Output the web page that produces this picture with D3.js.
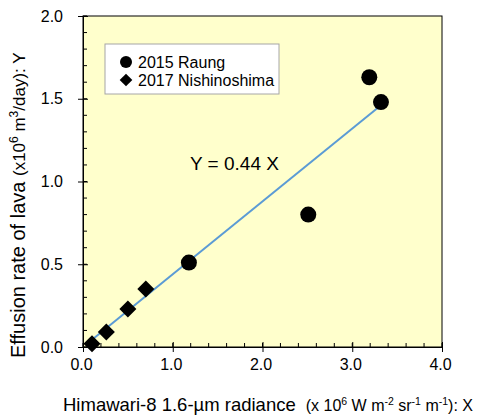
<!DOCTYPE html>
<html>
<head>
<meta charset="utf-8">
<title>Effusion rate vs radiance</title>
<script src="https://cdn.jsdelivr.net/npm/d3@7"></script>
<style>
  body { margin: 0; background: #fff; }
  text { font-family: "Liberation Sans", Arial, sans-serif; fill: #000; }
</style>
</head>
<body>
<div id="chart"></div>
<script>
  // data
  var raungX = [1.18, 2.51, 3.19, 3.32];
  var raungY = [0.51, 0.80, 1.63, 1.48];
  var nishiX = [0.10, 0.26, 0.50, 0.70];
  var nishiY = [0.02, 0.09, 0.23, 0.35];
  var slope = 0.44;
  var fitRange = [0.08, 3.32];
  var xTicks = [0, 1, 2, 3, 4];
  var yTicks = [0, 0.5, 1.0, 1.5, 2.0];

  var width = 481, height = 415;
  var margin = {top: 16, right: 39, bottom: 68, left: 83};

  var svg = d3.select("#chart").append("svg")
    .attr("width", width)
    .attr("height", height);

  var x = d3.scaleLinear().domain([0, 4]).range([margin.left, width - margin.right]);
  var y = d3.scaleLinear().domain([0, 2]).range([height - margin.bottom, margin.top]);

  // plot background
  svg.append("rect")
    .attr("x", x(0)).attr("y", y(2))
    .attr("width", x(4) - x(0)).attr("height", y(0) - y(2))
    .attr("fill", "#ffffcc")
    .attr("stroke", "#000")
    .attr("stroke-width", 1);

  // minor ticks (inside)
  var g = svg.append("g");
  g.selectAll(".xminor").data(d3.range(0, 4.01, 0.2))
    .enter().append("line")
    .attr("x1", function (d) { return x(d); })
    .attr("x2", function (d) { return x(d); })
    .attr("y1", y(0)).attr("y2", y(0) - 4)
    .attr("stroke", "#000");
  g.selectAll(".yminor").data(d3.range(0, 2.01, 0.1))
    .enter().append("line")
    .attr("y1", function (d) { return y(d); })
    .attr("y2", function (d) { return y(d); })
    .attr("x1", x(0)).attr("x2", x(0) + 4)
    .attr("stroke", "#000");

  // axes with major ticks crossing the line
  var xAxis = svg.append("g")
    .attr("transform", "translate(0," + y(0) + ")")
    .call(d3.axisBottom(x).tickValues(xTicks).tickFormat(d3.format(".1f")).tickSizeInner(5).tickSizeOuter(0).tickPadding(7));
  xAxis.selectAll(".tick line").attr("y1", -5);
  xAxis.selectAll(".tick text").attr("dx", "-2");
  var yAxis = svg.append("g")
    .attr("transform", "translate(" + x(0) + ",0)")
    .call(d3.axisLeft(y).tickValues(yTicks).tickFormat(d3.format(".1f")).tickSizeInner(5).tickSizeOuter(0).tickPadding(15));
  yAxis.selectAll(".tick line").attr("x1", 5);
  svg.selectAll(".domain").attr("stroke", "#000");
  svg.selectAll(".tick text")
    .style("font-family", "'Liberation Sans', Arial, sans-serif")
    .style("font-size", "16px")
    .attr("fill", "#000");

  // fit line
  svg.append("line")
    .attr("x1", x(fitRange[0])).attr("y1", y(slope * fitRange[0]))
    .attr("x2", x(fitRange[1])).attr("y2", y(slope * fitRange[1]))
    .attr("stroke", "#5b9bd5")
    .attr("stroke-width", 2);

  var circle = d3.symbol().type(d3.symbolCircle).size(Math.PI * 64);
  var diamond = d3.symbol().type(d3.symbolSquare).size(145);

  svg.append("g").selectAll("path").data(d3.zip(nishiX, nishiY))
    .enter().append("path")
    .attr("d", diamond)
    .attr("transform", function (d) { return "translate(" + x(d[0]) + "," + y(d[1]) + ") rotate(45)"; })
    .attr("fill", "#000");

  svg.append("g").selectAll("path").data(d3.zip(raungX, raungY))
    .enter().append("path")
    .attr("d", circle)
    .attr("transform", function (d) { return "translate(" + x(d[0]) + "," + y(d[1]) + ")"; })
    .attr("fill", "#000");

  // equation
  svg.append("text")
    .attr("x", 190).attr("y", 170)
    .style("font-size", "19px")
    .text("Y = 0.44 X");

  // legend
  var leg = svg.append("g");
  leg.append("rect")
    .attr("x", 105).attr("y", 44).attr("width", 174).attr("height", 50)
    .attr("fill", "#fff").attr("stroke", "#a6a6a6");
  leg.append("path")
    .attr("d", d3.symbol().type(d3.symbolCircle).size(Math.PI * 36))
    .attr("transform", "translate(126,62)");
  leg.append("path")
    .attr("d", d3.symbol().type(d3.symbolSquare).size(80))
    .attr("transform", "translate(126,80) rotate(45)");
  leg.append("text").attr("x", 138).attr("y", 67.5).style("font-size", "16px").text("2015 Raung");
  leg.append("text").attr("x", 138).attr("y", 85.5).style("font-size", "16px").text("2017 Nishinoshima");

  // x axis title
  var xt = svg.append("text").attr("x", 63).attr("y", 411).style("font-size", "18.5px");
  xt.append("tspan").text("Himawari-8 1.6-\u00b5m radiance");
  var xu = xt.append("tspan").attr("dx", 10).style("font-size", "16px");
  xu.append("tspan").text("(x 10");
  xu.append("tspan").attr("dy", -6).style("font-size", "10.5px").text("6");
  xu.append("tspan").attr("dy", 6).text(" W m");
  xu.append("tspan").attr("dy", -6).style("font-size", "10.5px").text("-2");
  xu.append("tspan").attr("dy", 6).text(" sr");
  xu.append("tspan").attr("dy", -6).style("font-size", "10.5px").text("-1");
  xu.append("tspan").attr("dy", 6).text(" m");
  xu.append("tspan").attr("dy", -6).style("font-size", "10.5px").text("-1");
  xu.append("tspan").attr("dy", 6).text("): X");

  // y axis title
  var yt = svg.append("text")
    .attr("transform", "translate(25,358) rotate(-90)")
    .style("font-size", "20px");
  yt.append("tspan").text("Effusion rate of lava ");
  var yu = yt.append("tspan").style("font-size", "17px");
  yu.append("tspan").text("(x10");
  yu.append("tspan").attr("dy", -7).style("font-size", "12px").text("6");
  yu.append("tspan").attr("dy", 7).text(" m");
  yu.append("tspan").attr("dy", -7).style("font-size", "12px").text("3");
  yu.append("tspan").attr("dy", 7).text("/day): Y");
</script>
</body>
</html>
